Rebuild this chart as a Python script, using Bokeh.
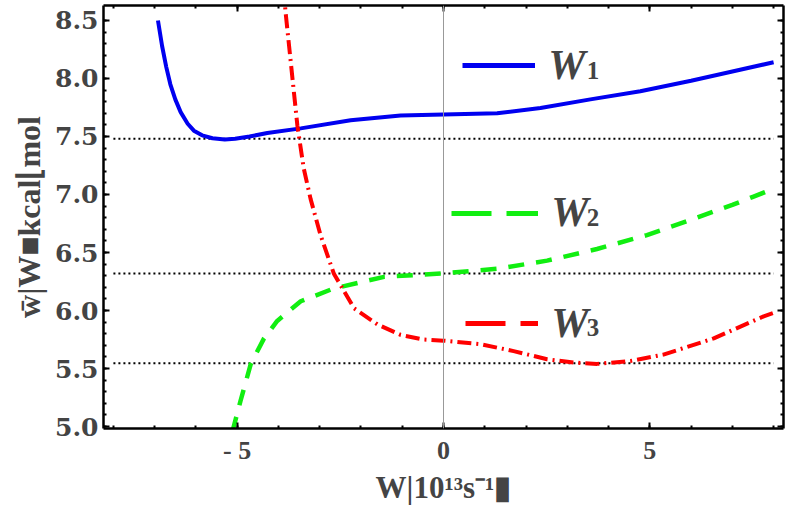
from bokeh.plotting import figure
from bokeh.models import (FixedTicker, Span, Label, Legend, LegendItem, Title,
                          LinearAxis, NumeralTickFormatter, CustomLabelingPolicy)
from bokeh.embed import file_html
from bokeh.resources import INLINE

# ---- data ----
w1_x = [-6.92, -6.82, -6.72, -6.62, -6.5, -6.37, -6.2, -6.05, -5.85, -5.6, -5.3, -5.05,
        -4.7, -4.27, -3.46, -2.25, -1.04, 0.0, 1.3, 2.35, 3.56, 4.77, 6.0, 7.0, 8.0]
w1_y = [8.50, 8.28, 8.10, 7.95, 7.82, 7.71, 7.61, 7.55, 7.51, 7.485, 7.475, 7.48,
        7.50, 7.53, 7.57, 7.64, 7.68, 7.69, 7.70, 7.745, 7.82, 7.89, 7.98, 8.06, 8.14]

w2_x = [-5.12, -4.92, -4.67, -4.35, -4.03, -3.46, -2.66, -1.44, 0.0, 1.3, 2.51,
        3.72, 4.93, 6.14, 6.6, 7.0, 7.5, 8.0]
w2_y = [4.95, 5.22, 5.54, 5.76, 5.91, 6.08, 6.19, 6.29, 6.32, 6.36, 6.43,
        6.53, 6.65, 6.80, 6.86, 6.91, 6.98, 7.05]

w3_x = [-3.92, -3.83, -3.54, -3.39, -3.22, -2.98, -2.66, -2.17, -1.6, -1.04, -0.48,
        0.0, 0.9, 1.7, 2.51, 3.2, 3.72, 4.53, 5.33, 6.55, 7.76, 8.0]
w3_y = [9.0, 8.58, 7.59, 7.23, 6.96, 6.65, 6.32, 6.02, 5.88, 5.79, 5.75,
        5.74, 5.71, 5.65, 5.58, 5.55, 5.54, 5.565, 5.62, 5.76, 5.95, 5.98]

level_y = [7.48, 6.32, 5.545]
level_x0 = [-8.0, -8.0, -8.0]
level_x1 = [8.0, 8.0, 8.0]

x_major = [-5, 0, 5]
x_minor = list(range(-8, 9))
x_labels = {-5: "- 5", 0: "0", 5: "5"}
y_major = [5.0, 5.5, 6.0, 6.5, 7.0, 7.5, 8.0, 8.5]
y_minor = [round(5.0 + 0.1 * i, 1) for i in range(36)]

series_names = ["W", "W", "W"]
series_subs = ["1", "2", "3"]

x_title = "W|10¹³s⁻¹▮"
y_title = "w̄|W■kcal⌊mol"

BLUE, GREEN, RED = "#0000f0", "#11ee11", "#ff0000"

p = figure(width=789, height=512, x_range=(-8.24, 8.24), y_range=(4.983, 8.629),
           min_border_left=103, min_border_right=6, min_border_top=5, min_border_bottom=84,
           output_backend="svg", toolbar_location=None)
p.xgrid.visible = False
p.ygrid.visible = False
p.outline_line_color = None

# reference lines
p.add_layout(Span(location=0, dimension="height", line_color="#999999", line_width=1))
p.segment(x0=level_x0, y0=level_y, x1=level_x1, y1=level_y,
          line_color="black", line_width=2, line_dash="2 3")

r1 = p.line(w1_x, w1_y, line_color=BLUE, line_width=4)
r2 = p.line(w2_x, w2_y, line_color=GREEN, line_width=4.5, line_dash="16 12")
r3 = p.line(w3_x, w3_y, line_color=RED, line_width=4, line_dash="14 5 2 5")

# legend sample glyphs (single-point renderers carrying the legend style)
l1 = p.line([w1_x[-1]], [w1_y[-1]], line_color=BLUE, line_width=5)
l2 = p.line([w2_x[-1]], [w2_y[-1]], line_color=GREEN, line_width=5, line_dash="40 15")
l3 = p.line([w3_x[-1]], [w3_y[-1]], line_color=RED, line_width=5, line_dash="40 15")

for rend, loc, gw in [(l1, (359, 358), 73), (l2, (348, 210), 87), (l3, (362, 100), 73)]:
    lg = Legend(items=[LegendItem(label=" ", renderers=[rend])], location=loc,
                glyph_width=gw, glyph_height=10, padding=0, margin=0, spacing=0,
                label_standoff=0, label_width=0, label_height=0,
                label_text_font_size="10px", border_line_color=None,
                background_fill_alpha=0, inactive_fill_alpha=0)
    p.add_layout(lg)

# legend texts
txt_pos = [(2.54, 8.115, 3.47, 8.072), (2.61, 6.848, 3.47, 6.804), (2.61, 5.891, 3.47, 5.856)]
for name, sub, (xw, yw, xs, ys) in zip(series_names, series_subs, txt_pos):
    p.add_layout(Label(x=xw, y=yw, text=name, text_font="Liberation Serif",
                       text_font_style="bold italic", text_font_size="42px",
                       text_baseline="alphabetic", text_align="left"))
    p.add_layout(Label(x=xs, y=ys, text=sub, text_font="Liberation Serif",
                       text_font_style="bold", text_font_size="25px",
                       text_baseline="alphabetic", text_align="left"))

# x axis title, as a panel below the axis
p.add_layout(Title(text=x_title, align="center", text_font="Liberation Serif",
                   text_font_style="bold", text_font_size="31px", standoff=0,
                   offset=2), "below")

hide_all = CustomLabelingPolicy(code="""
    for (const i of indices) { indices.unset(i) }
    return indices
""")

def style_axis(ax, show_labels):
    ax.axis_line_width = 2.5
    ax.axis_line_color = "black"
    ax.major_tick_in = 6
    ax.major_tick_out = 0
    ax.minor_tick_in = 3
    ax.minor_tick_out = 0
    ax.major_tick_line_width = 2
    ax.minor_tick_line_width = 2
    if not show_labels:
        ax.major_label_policy = hide_all
        ax.major_label_text_font_size = "1px"
        ax.major_label_standoff = 0

p.xaxis.ticker = FixedTicker(ticks=x_major, minor_ticks=x_minor)
p.yaxis.ticker = FixedTicker(ticks=y_major, minor_ticks=y_minor)
style_axis(p.xaxis[0], True)
style_axis(p.yaxis[0], True)
p.xaxis.major_label_overrides = x_labels
p.xaxis.major_label_text_font = "Liberation Serif"
p.xaxis.major_label_text_font_style = "bold"
p.xaxis.major_label_text_font_size = "26px"
p.xaxis.major_label_standoff = 7

p.yaxis.formatter = NumeralTickFormatter(format="0.0")
p.yaxis.major_label_text_font = "DejaVu Serif"
p.yaxis.major_label_text_font_style = "bold"
p.yaxis.major_label_text_font_size = "25px"
p.yaxis.major_label_standoff = 5
p.yaxis.axis_label = y_title
p.yaxis.axis_label_text_font = "Liberation Serif"
p.yaxis.axis_label_text_font_style = "bold"
p.yaxis.axis_label_text_font_size = "32px"
p.yaxis.axis_label_standoff = 5

top = LinearAxis(ticker=FixedTicker(ticks=x_major, minor_ticks=x_minor))
right = LinearAxis(ticker=FixedTicker(ticks=y_major, minor_ticks=y_minor))
style_axis(top, False)
style_axis(right, False)
p.add_layout(top, "above")
p.add_layout(right, "right")

open("out.html", "w").write(file_html(p, INLINE))
